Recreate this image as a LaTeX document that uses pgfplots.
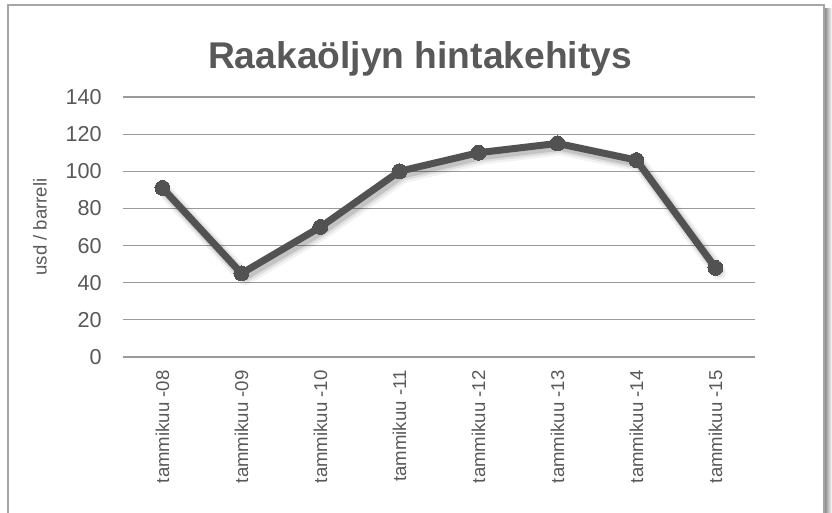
\documentclass[border=0pt]{standalone}
\usepackage{fontspec}
\setmainfont{Liberation Sans}
\usepackage{pgfplots}
\pgfplotsset{compat=1.18}
\definecolor{txt}{HTML}{595959}
\definecolor{ln}{HTML}{525252}
\definecolor{grd}{HTML}{9A9A9A}
\definecolor{frm}{HTML}{A6A6A6}
\begin{document}
\begin{tikzpicture}
\useasboundingbox (0,0) rectangle (416pt,256.5pt);
\fill[white] (0,0) rectangle (416pt,256.5pt);
\shade[left color=black!50, right color=white] (412pt,-2pt) rectangle (416pt,252pt);
\draw[frm, line width=0.75pt] (4pt,-5pt) -- (4pt,254pt) -- (412pt,254pt) -- (412pt,-5pt);
\begin{axis}[
  at={(61.5pt,78pt)}, anchor=south west,
  scale only axis, width=316pt, height=130pt,
  xmin=-0.5, xmax=7.5, ymin=0, ymax=140,
  ytick={0,20,...,140},
  xtick={0,...,7},
  xticklabels={tammikuu -08,tammikuu -09,tammikuu -10,tammikuu -11,tammikuu -12,tammikuu -13,tammikuu -14,tammikuu -15},
  axis line style={draw=none},
  major tick length=0pt,
  ymajorgrids,
  grid style={grd, line width=0.6pt},
  clip=false,
  /pgf/number format/assume math mode=true,
  yticklabel style={font=\fontsize{10.8pt}{12pt}\selectfont, text=txt, anchor=east, inner sep=0pt, xshift=-10.5pt},
  xticklabel style={font=\fontsize{9.3pt}{11pt}\selectfont, text=txt, rotate=90, anchor=east, inner sep=0pt, xshift=-6.5pt},
  ylabel={usd / barreli},
  every axis y label/.style={at={(axis description cs:-0.1313,0.5)}, rotate=90, anchor=center, font=\fontsize{9.3pt}{11pt}\selectfont, text=txt},
  title={Raakaöljyn hintakehitys},
  every axis title/.style={at={(axis description cs:0.47,1.1115)}, anchor=base, font=\fontsize{18.6pt}{22pt}\selectfont\bfseries, text=txt},
]
\addplot[black, opacity=0.05, line width=7.5pt, line join=round, line cap=round, transform canvas={shift={(1.8pt,-2.2pt)}}] coordinates {(0,91) (1,45) (2,70) (3,100) (4,110) (5,115) (6,106) (7,48)};
\addplot[black, opacity=0.08, line width=5.5pt, line join=round, line cap=round, transform canvas={shift={(1.6pt,-2pt)}}] coordinates {(0,91) (1,45) (2,70) (3,100) (4,110) (5,115) (6,106) (7,48)};
\addplot[black, opacity=0.12, line width=3.8pt, line join=round, line cap=round, transform canvas={shift={(1.4pt,-1.8pt)}}] coordinates {(0,91) (1,45) (2,70) (3,100) (4,110) (5,115) (6,106) (7,48)};
\addplot[ln, line width=3.5pt, line join=round, mark=*, mark size=3.75pt, mark options={fill=ln, draw=ln, line width=0pt}] coordinates {(0,91) (1,45) (2,70) (3,100) (4,110) (5,115) (6,106) (7,48)};
\end{axis}
\end{tikzpicture}
\end{document}
